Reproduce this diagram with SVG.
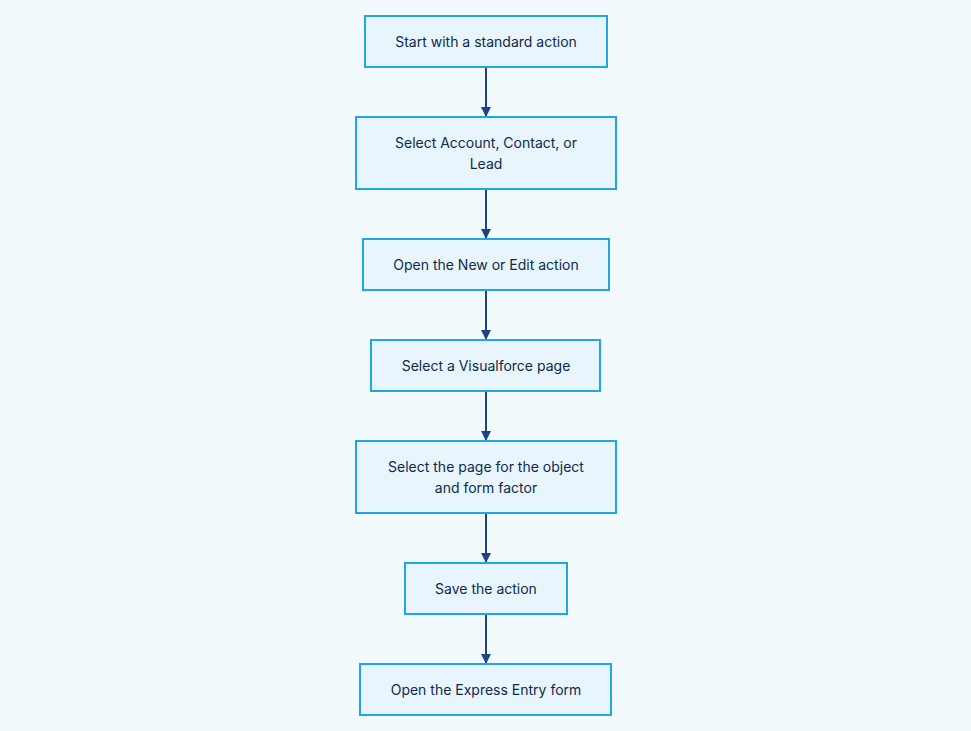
<svg xmlns="http://www.w3.org/2000/svg" width="971" height="731" viewBox="0 0 971 731">
<style>
.n{fill:#e8f5fc;stroke:#1fa7e1;stroke-width:2}
.t{font-family:Inter,"Liberation Sans",sans-serif;font-size:14px;fill:#0f2a4a;text-anchor:middle}
.c{stroke:#1f4486;stroke-width:2;fill:none;marker-end:url(#a)}
</style>
<defs><marker id="a" viewBox="0 0 10 10" refX="9" refY="5" markerWidth="5" markerHeight="5" orient="auto"><path d="M0,0L10,5L0,10z" fill="#1f4486"/></marker></defs>
<rect width="971" height="731" fill="#f3fafd"/>
<g id="connectors">
<path class="c" d="M486,67V116"/><path class="c" d="M486,189V238"/><path class="c" d="M486,290V339"/><path class="c" d="M486,391V440"/><path class="c" d="M486,513V562"/><path class="c" d="M486,614V663"/>
</g>
<g id="n1"><rect class="n" x="365" y="16" width="242" height="51"/><text class="t" x="486" y="47">Start with a standard action</text></g>
<g id="n2"><rect class="n" x="356" y="117" width="260" height="72"/><text class="t" x="486" y="148">Select Account, Contact, or</text><text class="t" x="486" y="169">Lead</text></g>
<g id="n3"><rect class="n" x="363" y="239" width="246" height="51"/><text class="t" x="486" y="270">Open the New or Edit action</text></g>
<g id="n4"><rect class="n" x="371" y="340" width="229" height="51"/><text class="t" x="486" y="371">Select a Visualforce page</text></g>
<g id="n5"><rect class="n" x="356" y="441" width="260" height="72"/><text class="t" x="486" y="472">Select the page for the object</text><text class="t" x="486" y="493">and form factor</text></g>
<g id="n6"><rect class="n" x="405" y="563" width="162" height="51"/><text class="t" x="486" y="594">Save the action</text></g>
<g id="n7"><rect class="n" x="360" y="664" width="251" height="51"/><text class="t" x="486" y="695">Open the Express Entry form</text></g>
</svg>
